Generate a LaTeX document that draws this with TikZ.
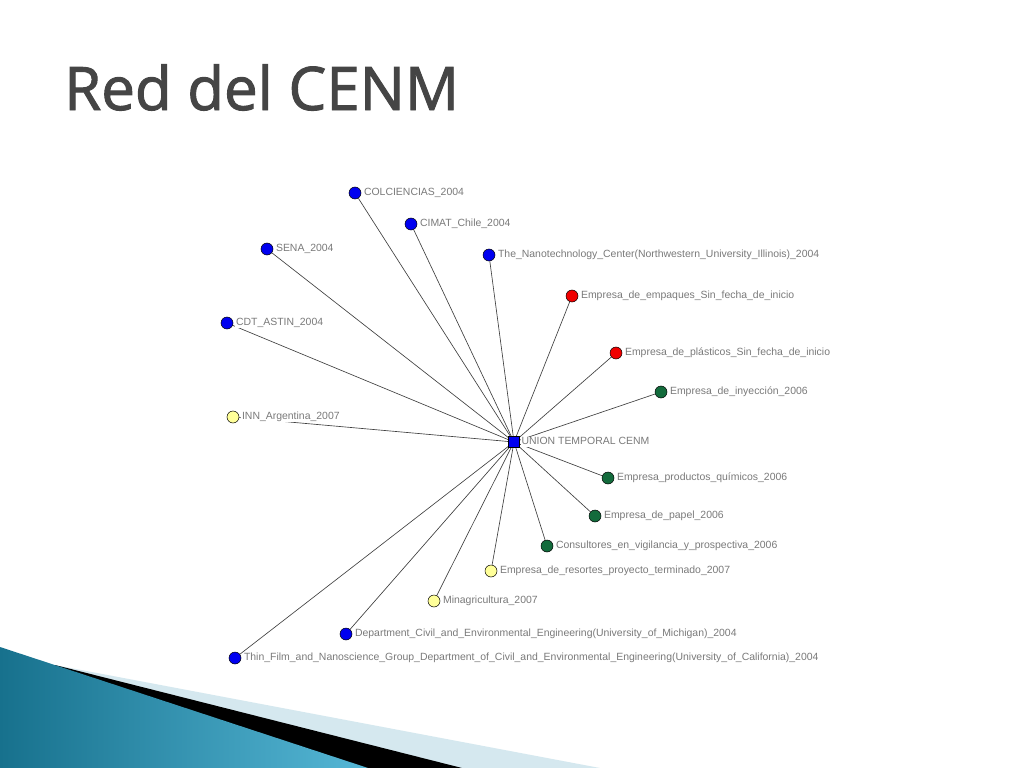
\documentclass[tikz,border=0pt]{standalone}
\usepackage{fontspec}
\setmainfont{Liberation Sans}
\newfontfamily\titlefont[FakeBold=1.6]{Open Sans}
\pgfdeclarelayer{background}
\pgfdeclarelayer{edgelayer}
\pgfsetlayers{background,edgelayer,main}
\definecolor{nblue}{HTML}{0000F0}
\definecolor{nred}{HTML}{F00000}
\definecolor{ngreen}{HTML}{136B3C}
\definecolor{nyellow}{HTML}{FFFF99}
\definecolor{lblgray}{HTML}{7A7A7A}
\definecolor{linkgray}{HTML}{404040}
\definecolor{titlegray}{HTML}{454545}
\definecolor{decodark}{HTML}{17718D}
\definecolor{decolight}{HTML}{55B7D6}
\definecolor{decopale}{HTML}{D5E8EF}
\tikzset{
  ent/.style={circle, draw=black, line width=0.5bp, minimum size=12bp, inner sep=0pt},
  blu/.style={ent, fill=nblue},
  rd/.style={ent, fill=nred},
  grn/.style={ent, fill=ngreen},
  yel/.style={ent, fill=nyellow},
  hub/.style={rectangle, draw=black, line width=0.5bp, fill=nblue, minimum size=11bp, inner sep=0pt},
  lbl/.style={fill=white, text=lblgray, font=\fontsize{10.45bp}{12bp}\selectfont, inner sep=0.6bp, text height=7.7bp, text depth=2bp, label distance=2bp},
  link/.style={draw=linkgray, line width=0.65bp}
}
\begin{document}
\begin{tikzpicture}[x=1bp,y=-1bp]
\useasboundingbox (0,0) rectangle (1024,768);
\begin{pgfonlayer}{background}
  \fill[white] (0,0) rectangle (1024,768);
  \fill[decopale] (60,666) -- (600,768) -- (0,768) -- cycle;
  \fill[black] (55,665) -- (462,768) -- (0,768) -- cycle;
  \shade[left color=decodark, right color=decolight] (0,647) -- (368,768) -- (0,768) -- cycle;
\end{pgfonlayer}

\node[anchor=base west, text=titlegray, font=\titlefont\fontsize{60bp}{70bp}\selectfont, inner sep=0pt] (title) at (64,110) {Red del CENM};

\node[hub, label={[lbl, label distance=1bp]right:UNION TEMPORAL CENM}] (c) at (514,442) {};

\node[blu, label={[lbl]right:COLCIENCIAS\_2004}] (n1) at (355,193) {};
\node[blu, label={[lbl]right:CIMAT\_Chile\_2004}] (n2) at (411,224) {};
\node[blu, label={[lbl]right:SENA\_2004}] (n3) at (267,249) {};
\node[blu, label={[lbl]right:The\_Nanotechnology\_Center(Northwestern\_University\_Illinois)\_2004}] (n4) at (489,255) {};
\node[rd, label={[lbl]right:Empresa\_de\_empaques\_Sin\_fecha\_de\_inicio}] (n5) at (572,296) {};
\node[blu, label={[lbl]right:CDT\_ASTIN\_2004}] (n6) at (227,323) {};
\node[rd, label={[lbl]right:Empresa\_de\_plásticos\_Sin\_fecha\_de\_inicio}] (n7) at (616,353) {};
\node[grn, label={[lbl]right:Empresa\_de\_inyección\_2006}] (n8) at (661,392) {};
\node[yel, label={[lbl]right:INN\_Argentina\_2007}] (n9) at (233,417) {};
\node[grn, label={[lbl]right:Empresa\_productos\_químicos\_2006}] (n10) at (608,478) {};
\node[grn, label={[lbl]right:Empresa\_de\_papel\_2006}] (n11) at (595,516) {};
\node[grn, label={[lbl]right:Consultores\_en\_vigilancia\_y\_prospectiva\_2006}] (n12) at (547,546) {};
\node[yel, label={[lbl]right:Empresa\_de\_resortes\_proyecto\_terminado\_2007}] (n13) at (491,571) {};
\node[yel, label={[lbl]right:Minagricultura\_2007}] (n14) at (434,601) {};
\node[blu, label={[lbl]right:Department\_Civil\_and\_Environmental\_Engineering(University\_of\_Michigan)\_2004}] (n15) at (346,634) {};
\node[blu, label={[lbl]right:Thin\_Film\_and\_Nanoscience\_Group\_Department\_of\_Civil\_and\_Environmental\_Engineering(University\_of\_California)\_2004}] (n16) at (235,658) {};

\begin{pgfonlayer}{edgelayer}
  \foreach \k in {1,...,16} {\draw[link] (c.center) -- (n\k);}
\end{pgfonlayer}
\end{tikzpicture}
\end{document}
